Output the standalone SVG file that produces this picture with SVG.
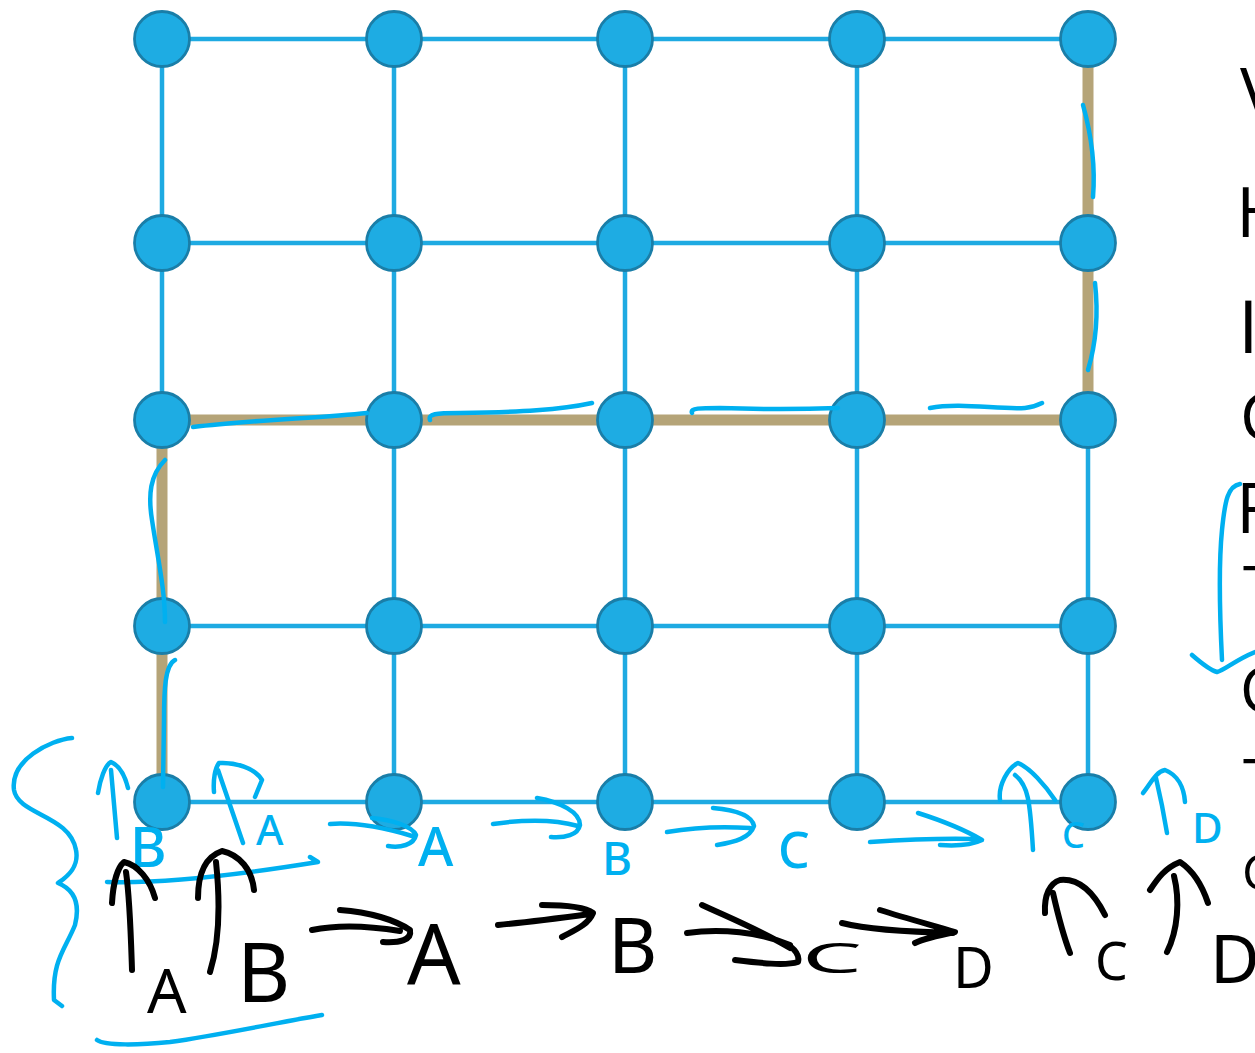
<svg xmlns="http://www.w3.org/2000/svg" width="1255" height="1053" viewBox="0 0 1255 1053">
<style>
.g{stroke:#1eaae2;stroke-width:4.5;fill:none}
.tan{stroke:#b5a478;stroke-width:11;fill:none;stroke-linejoin:miter}
.n{fill:#1eace3;stroke:#1a7ea8;stroke-width:2.8}
.hb{stroke:#00b0f0;stroke-width:4.5;fill:none;stroke-linecap:round;stroke-linejoin:round}
.hk{stroke:#000;stroke-width:6;fill:none;stroke-linecap:round;stroke-linejoin:round}
.tb{fill:#00b0f0;font-family:"Noto Sans",sans-serif;font-weight:500}
.tk{fill:#000;font-family:"Noto Sans",sans-serif}
.side{fill:#000;font-family:"Open Sans","Noto Sans",sans-serif;font-weight:400}
</style>
<rect width="1255" height="1053" fill="#fff"/>
<g id="connectors">
<path class="g" d="M162,39H1088M162,243H1088M162,420H1088M162,626H1088M162,802H1088"/>
<path class="g" d="M162,39V802M394,39V802M625,39V802M857,39V802M1088,39V802"/>
<path class="tan" d="M162,802V420H1088V39"/>
</g>
<g id="n11"><circle class="n" cx="162" cy="39" r="27.5"/></g>
<g id="n12"><circle class="n" cx="394" cy="39" r="27.5"/></g>
<g id="n13"><circle class="n" cx="625" cy="39" r="27.5"/></g>
<g id="n14"><circle class="n" cx="857" cy="39" r="27.5"/></g>
<g id="n15"><circle class="n" cx="1088" cy="39" r="27.5"/></g>
<g id="n21"><circle class="n" cx="162" cy="243" r="27.5"/></g>
<g id="n22"><circle class="n" cx="394" cy="243" r="27.5"/></g>
<g id="n23"><circle class="n" cx="625" cy="243" r="27.5"/></g>
<g id="n24"><circle class="n" cx="857" cy="243" r="27.5"/></g>
<g id="n25"><circle class="n" cx="1088" cy="243" r="27.5"/></g>
<g id="n31"><circle class="n" cx="162" cy="420" r="27.5"/></g>
<g id="n32"><circle class="n" cx="394" cy="420" r="27.5"/></g>
<g id="n33"><circle class="n" cx="625" cy="420" r="27.5"/></g>
<g id="n34"><circle class="n" cx="857" cy="420" r="27.5"/></g>
<g id="n35"><circle class="n" cx="1088" cy="420" r="27.5"/></g>
<g id="n41"><circle class="n" cx="162" cy="626" r="27.5"/></g>
<g id="n42"><circle class="n" cx="394" cy="626" r="27.5"/></g>
<g id="n43"><circle class="n" cx="625" cy="626" r="27.5"/></g>
<g id="n44"><circle class="n" cx="857" cy="626" r="27.5"/></g>
<g id="n45"><circle class="n" cx="1088" cy="626" r="27.5"/></g>
<g id="n51"><circle class="n" cx="162" cy="802" r="27.5"/></g>
<g id="n52"><circle class="n" cx="394" cy="802" r="27.5"/></g>
<g id="n53"><circle class="n" cx="625" cy="802" r="27.5"/></g>
<g id="n54"><circle class="n" cx="857" cy="802" r="27.5"/></g>
<g id="n55"><circle class="n" cx="1088" cy="802" r="27.5"/></g>
<g id="ink-blue">
<path class="hb" d="M165,460C150,475 148,495 152,520C158,560 165,590 165,622"/>
<path class="hb" d="M175,660C165,665 164,690 164,720L163,787"/>
<path class="hb" d="M193,427C250,420 320,418 367,413"/>
<path class="hb" d="M430,420C428,414 435,413 460,413C520,412 560,410 592,403"/>
<path class="hb" d="M692,413C690,408 700,408 720,408C780,410 810,409 838,408"/>
<path class="hb" d="M930,408C960,402 1000,410 1025,408C1035,407 1040,404 1042,403"/>
<path class="hb" d="M1083,105C1090,130 1096,160 1093,197"/>
<path class="hb" d="M1095,283C1098,310 1097,340 1088,370"/>
<path class="hb" d="M1240,484C1228,486 1225,500 1222,530C1218,570 1220,620 1222,660M1192,655C1200,662 1210,670 1217,672C1225,670 1235,660 1255,652"/>
<path class="hb" d="M72,738C50,740 10,760 14,790C18,815 70,815 76,850C80,870 62,880 58,883C75,890 80,905 75,925C65,950 52,960 54,1000L62,1006"/>
<path class="hb" d="M98,793C100,780 105,765 111,762C118,765 124,772 128,788M111,770L117,838"/>
<path class="hb" d="M214,792C213,780 215,768 219,763C235,762 255,768 262,780L255,797M218,770L243,843"/>
<path class="hb" d="M107,882C170,884 250,873 318,862L310,857"/>
<path class="hb" d="M97,1040C105,1046 140,1045 170,1042C220,1035 280,1022 322,1015"/>
<path class="hb" d="M330,824C355,822 385,828 412,836M372,818C392,820 412,826 416,835C414,845 400,848 388,846"/>
<path class="hb" d="M493,824C520,820 550,818 578,826M537,798C560,802 580,812 580,825C578,835 565,838 551,837"/>
<path class="hb" d="M667,832C690,828 720,826 750,828M713,808C735,810 752,815 754,826C750,838 735,842 717,845"/>
<path class="hb" d="M870,842C900,840 940,838 975,839M918,813C940,820 965,830 982,840C970,846 955,846 940,845"/>
<path class="hb" d="M1000,800C998,785 1008,768 1018,763C1030,768 1045,785 1055,800M1015,775C1028,785 1030,800 1033,850"/>
<path class="hb" d="M1143,793C1150,785 1155,772 1165,770C1178,775 1184,788 1185,802M1156,778C1160,795 1164,815 1167,833"/>
<text class="tb" x="130" y="867" font-size="56">B</text>
<text class="tb" x="256" y="845" font-size="42">A</text>
<text class="tb" x="418" y="866" font-size="54">A</text>
<text class="tb" x="602" y="875" font-size="46">B</text>
<text class="tb" x="778" y="868" font-size="50">C</text>
<text class="tb" x="1062" y="848" font-size="36">C</text>
<text class="tb" x="1192" y="843" font-size="42">D</text>
</g>
<g id="ink-black">
<path class="hk" d="M112,903C113,885 117,868 124,862C138,865 150,880 155,898M126,872C130,900 131,940 132,970"/>
<path class="hk" d="M198,898C198,875 205,857 222,851C240,855 252,870 254,890M216,862C220,900 220,940 210,972"/>
<path class="hk" d="M312,930C340,924 370,926 400,931M340,910C370,912 395,920 410,930C412,940 400,943 383,942"/>
<path class="hk" d="M498,925C530,922 560,918 590,914M542,905C565,905 585,907 593,913C588,925 575,930 562,937"/>
<path class="hk" d="M702,905C730,918 760,930 790,948M687,933C720,928 760,932 790,945M735,960C760,963 785,966 798,962C800,955 795,950 790,946"/>
<path class="hk" d="M842,923C870,930 910,932 953,933M880,910C905,918 935,926 955,932C940,935 925,938 915,943"/>
<path class="hk" d="M1045,913C1044,895 1050,883 1060,880C1080,878 1095,895 1105,915M1053,893C1058,915 1063,935 1070,953"/>
<path class="hk" d="M1150,890C1158,878 1165,868 1180,862C1192,870 1202,885 1208,903M1174,876C1180,900 1178,930 1167,952"/>
<text class="tk" x="147" y="1013" font-size="62">A</text>
<text class="tk" x="237" y="1002" font-size="82">B</text>
<text class="tk" x="407" y="985" font-size="84">A</text>
<text class="tk" x="608" y="973" font-size="76">B</text>
<text class="tk" x="802" y="973" font-size="42" textLength="60" lengthAdjust="spacingAndGlyphs">C</text>
<text class="tk" x="953" y="988" font-size="56">D</text>
<text class="tk" x="1095" y="980" font-size="52">C</text>
<text class="tk" x="1210" y="983" font-size="68">D</text>
</g>
<g id="side-text">
<text class="side" x="1240" y="118" font-size="70">V</text>
<text class="side" x="1236" y="237" font-size="70">H</text>
<text class="side" x="1238" y="353" font-size="74" font-weight="700">I</text>
<text class="side" x="1240" y="440" font-size="66">C</text>
<text class="side" x="1236" y="533" font-size="70">F</text>
<text class="side" x="1243" y="607" font-size="56">T</text>
<text class="side" x="1240" y="712" font-size="62">C</text>
<text class="side" x="1243" y="800" font-size="56">T</text>
<text class="side" x="1242" y="890" font-size="50">C</text>
</g>
</svg>
